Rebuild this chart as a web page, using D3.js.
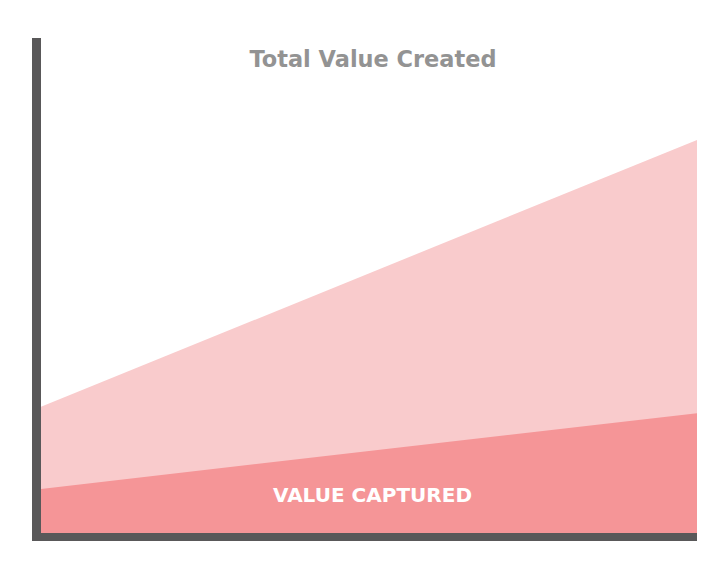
<!DOCTYPE html>
<html>
<head>
<meta charset="utf-8">
<script src="https://cdn.jsdelivr.net/npm/d3@7"></script>
<style>
  html, body { margin: 0; padding: 0; background: #fff; }
  svg { display: block; }
</style>
</head>
<body>
<svg id="chart" width="726" height="570"></svg>
<script>
// Time steps (start and end of the period)
const steps = [0, 1];
// Total value created over time
const totalValue = [25.5, 79.4];
// Share of that value that is captured
const capturedValue = [8.9, 24.2];

const title = "Total Value Created";
const capturedLabel = "VALUE CAPTURED";

const svg = d3.select("#chart");

const x = d3.scaleLinear().domain([0, 1]).range([41, 697]);
const y = d3.scaleLinear().domain([0, 100]).range([533, 38]);

const total = steps.map((s, i) => ({ s, v: totalValue[i] }));
const captured = steps.map((s, i) => ({ s, v: capturedValue[i] }));

const area = d3.area()
  .x(d => x(d.s))
  .y0(y(0))
  .y1(d => y(d.v));

svg.append("path")
  .datum(total)
  .attr("d", area)
  .attr("fill", "#f9cbcc");

svg.append("path")
  .datum(captured)
  .attr("d", area)
  .attr("fill", "#f59597");

// Axis lines: thick dark grey L-shape
const axisColor = "#595859";
const yTop = y.range()[1];
const xLeft = x.range()[0];
const xRight = x.range()[1];
const base = y.range()[0];

svg.append("rect")
  .attr("x", xLeft - 9).attr("y", yTop)
  .attr("width", 9).attr("height", base + 8 - yTop)
  .attr("fill", axisColor);

svg.append("rect")
  .attr("x", xLeft - 9).attr("y", base)
  .attr("width", xRight - xLeft + 9).attr("height", 8)
  .attr("fill", axisColor);

const titleText = svg.append("text")
  .attr("x", 373).attr("y", 67)
  .attr("text-anchor", "middle")
  .attr("font-family", "'DejaVu Sans', sans-serif")
  .attr("font-weight", 700)
  .attr("font-size", 23.5)
  .attr("fill", "#939393")
  .text(title);

const capText = svg.append("text")
  .attr("x", 372.5).attr("y", 502)
  .attr("text-anchor", "middle")
  .attr("font-family", "'DejaVu Sans', sans-serif")
  .attr("font-weight", 700)
  .attr("font-size", 19.5)
  .attr("fill", "#ffffff")
  .text(capturedLabel);

// Fit each label to its intended width
[[titleText, 247], [capText, 199]].forEach(([t, w]) => {
  const cur = t.node().getComputedTextLength();
  if (Math.abs(cur - w) > 2) {
    t.attr("textLength", w).attr("lengthAdjust", "spacingAndGlyphs");
  }
});
</script>
</body>
</html>
